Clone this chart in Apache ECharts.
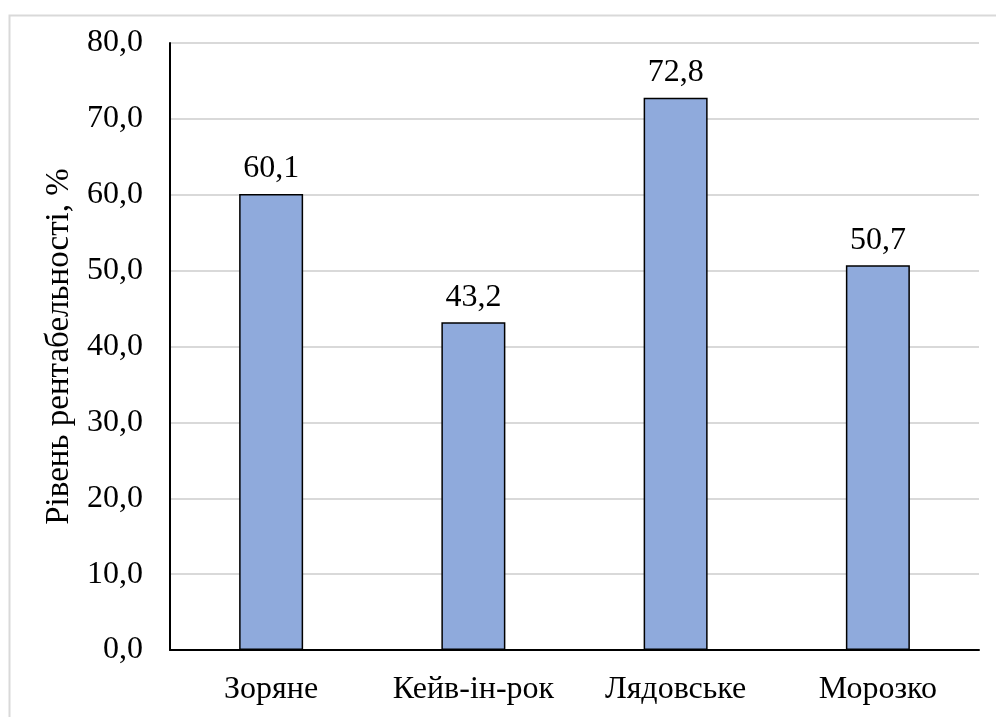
<!DOCTYPE html>
<html>
<head>
<meta charset="utf-8">
<script src="https://cdn.jsdelivr.net/npm/echarts@6/dist/echarts.min.js"></script>
<style>
  html, body { margin: 0; padding: 0; background: #fff; }
  #chart { width: 996px; height: 717px; }
</style>
</head>
<body>
<div id="chart"></div>
<script>
// Profitability level by enterprise
const categories = ['Зоряне', 'Кейв-ін-рок', 'Лядовське', 'Морозко'];
const profitability = [60.1, 43.2, 72.8, 50.7];
const yTicks = { min: 0, max: 80, interval: 10 };
const yTitle = 'Рівень рентабельності, %';

const fontFamily = '"Liberation Serif", "Times New Roman", serif';
const fmt = v => v.toFixed(1).replace('.', ',');

const chart = echarts.init(document.getElementById('chart'), null, { renderer: 'canvas' });
chart.setOption({
  animation: false,
  backgroundColor: '#ffffff',
  textStyle: { fontFamily },
  graphic: [{
    type: 'rect',
    left: 7, top: 13,
    shape: { width: 1010, height: 720 },
    style: { fill: 'none', stroke: '#d9d9d9', lineWidth: 2 },
    silent: true
  }],
  grid: { left: 170, right: 17, top: 43, bottom: 67, containLabel: false },
  xAxis: {
    type: 'category',
    data: categories,
    axisLine: { show: true, lineStyle: { color: '#000', width: 2 } },
    axisTick: { show: false },
    axisLabel: { color: '#000', fontFamily, fontSize: 32, margin: 24, interval: 0 },
    splitLine: { show: false }
  },
  yAxis: {
    type: 'value',
    min: yTicks.min, max: yTicks.max, interval: yTicks.interval,
    name: yTitle,
    nameLocation: 'middle',
    nameGap: 93,
    nameRotate: 90,
    nameTextStyle: { color: '#000', fontFamily, fontSize: 33 },
    axisLine: { show: true, lineStyle: { color: '#000', width: 2 } },
    axisTick: { show: false },
    axisLabel: { color: '#000', fontFamily, fontSize: 32, margin: 27, formatter: v => fmt(v) },
    splitLine: { show: true, lineStyle: { color: '#d9d9d9', width: 2 } }
  },
  series: [{
    type: 'bar',
    data: profitability,
    barWidth: 64,
    itemStyle: { color: '#8faadc', borderColor: '#000', borderWidth: 1.5 },
    label: {
      show: true, position: 'top', distance: 9,
      color: '#000', fontFamily, fontSize: 32,
      formatter: p => fmt(p.value)
    }
  }]
});
</script>
</body>
</html>
